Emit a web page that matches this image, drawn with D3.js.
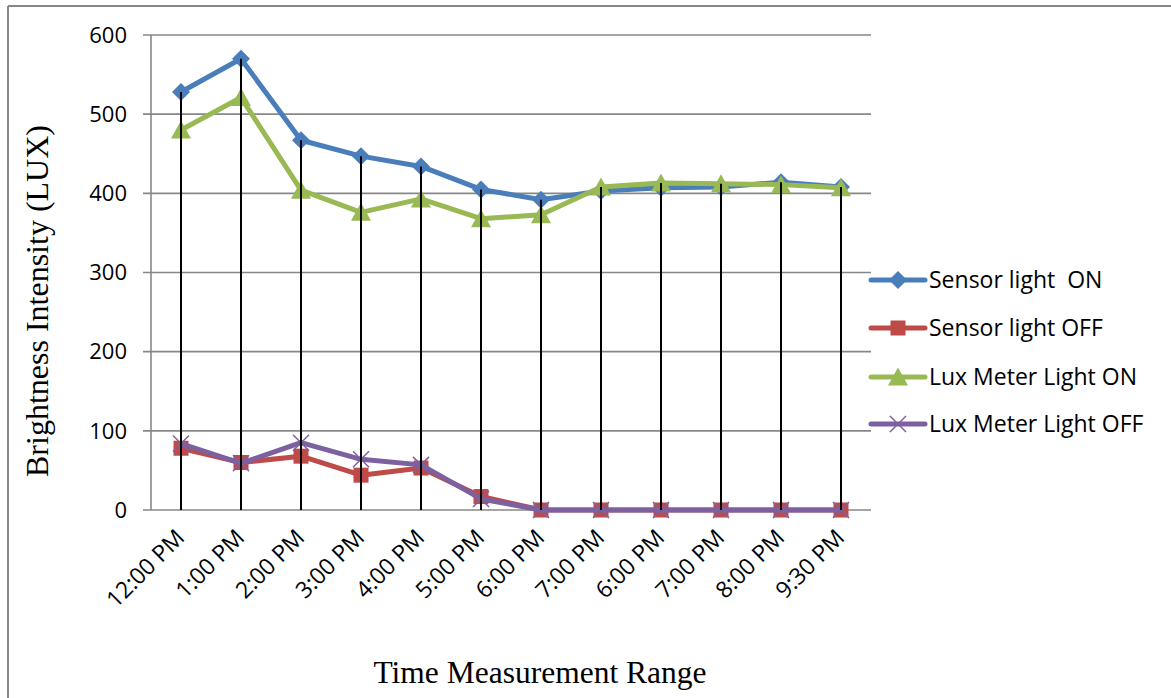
<!DOCTYPE html>
<html>
<head>
<meta charset="utf-8">
<script src="https://cdn.jsdelivr.net/npm/d3@7"></script>
<style>
  html, body { margin: 0; padding: 0; background: #fff; }
  svg { display: block; }
  text { white-space: pre; }
</style>
</head>
<body>
<svg id="chart" width="1171" height="698"></svg>
<script>
const categories = ["12:00 PM","1:00 PM","2:00 PM","3:00 PM","4:00 PM","5:00 PM","6:00 PM","7:00 PM","6:00 PM","7:00 PM","8:00 PM","9:30 PM"];
const sensorOn   = [528, 570, 467, 447, 434, 405, 392, 403, 407, 408, 414, 408];
const sensorOff  = [78, 60, 68, 44, 53, 17, 0, 0, 0, 0, 0, 0];
const luxOn      = [480, 521, 404, 376, 393, 368, 373, 408, 413, 412, 411, 407];
const luxOff     = [84, 59, 85, 64, 57, 14, 0, 0, 0, 0, 0, 0];
const yTicks     = [0, 100, 200, 300, 400, 500, 600];
const seriesNames = ["Sensor light  ON", "Sensor light OFF", "Lux Meter Light ON", "Lux Meter Light OFF"];

const series = [
  {name: seriesNames[0], values: sensorOn,  color: "#4A7EBB", marker: "diamond"},
  {name: seriesNames[1], values: sensorOff, color: "#BE4B48", marker: "square"},
  {name: seriesNames[2], values: luxOn,     color: "#98B954", marker: "triangle"},
  {name: seriesNames[3], values: luxOff,    color: "#7D60A0", marker: "x"}
];

const svg = d3.select("#chart");
const plot = {left: 151, right: 871, top: 35, bottom: 510};
const gray = "#878787";

// outer frame (top and left edges)
svg.append("line").attr("x1", 8).attr("x2", 1171).attr("y1", 6).attr("y2", 6).attr("stroke", gray).attr("stroke-width", 2);
svg.append("line").attr("x1", 8).attr("x2", 8).attr("y1", 6).attr("y2", 698).attr("stroke", gray).attr("stroke-width", 2);

const x = d3.scaleBand().domain(d3.range(categories.length)).range([plot.left, plot.right]);
const cx = i => x(i) + x.bandwidth() / 2;
const y = d3.scaleLinear().domain([0, 600]).range([plot.bottom, plot.top]);

// gridlines + tick marks
svg.append("g").selectAll("line").data(yTicks).join("line")
  .attr("x1", plot.left - 8).attr("x2", plot.right)
  .attr("y1", d => y(d)).attr("y2", d => y(d))
  .attr("stroke", gray).attr("stroke-width", 1.6);

// y axis line
svg.append("line").attr("x1", plot.left).attr("x2", plot.left)
  .attr("y1", plot.top).attr("y2", plot.bottom).attr("stroke", gray).attr("stroke-width", 1.6);

// y tick labels
svg.append("g").selectAll("text").data(yTicks).join("text")
  .attr("x", 127).attr("y", d => y(d)).attr("dy", "0.35em")
  .attr("text-anchor", "end")
  .attr("font-family", "'Open Sans', sans-serif").attr("font-size", 22)
  .attr("fill", "#000")
  .text(d => d);

// x tick labels
svg.append("g").selectAll("text").data(categories).join("text")
  .attr("transform", (d, i) => `translate(${cx(i) + 5},${plot.bottom + 29}) rotate(-45)`)
  .attr("text-anchor", "end")
  .attr("font-family", "'Open Sans', sans-serif").attr("font-size", 23)
  .attr("fill", "#000")
  .text(d => d);

// axis titles
svg.append("text")
  .attr("transform", `translate(48,301) rotate(-90)`)
  .attr("text-anchor", "middle")
  .attr("font-family", "'Liberation Serif', serif").attr("font-size", 32)
  .text("Brightness Intensity (LUX)");
svg.append("text")
  .attr("x", 540).attr("y", 683)
  .attr("text-anchor", "middle")
  .attr("font-family", "'Liberation Serif', serif").attr("font-size", 31.5)
  .text("Time Measurement Range");

function drawMarker(g, type, px, py, color) {
  if (type === "diamond") {
    const s = 9;
    g.append("path").attr("d", `M${px},${py - s}L${px + s},${py}L${px},${py + s}L${px - s},${py}Z`).attr("fill", color);
  } else if (type === "square") {
    const s = 7.5;
    g.append("rect").attr("x", px - s).attr("y", py - s).attr("width", 2 * s).attr("height", 2 * s).attr("fill", color);
  } else if (type === "triangle") {
    const s = 8.5;
    g.append("path").attr("d", `M${px},${py - s - 1}L${px + s + 1.5},${py + s}L${px - s - 1.5},${py + s}Z`).attr("fill", color);
  } else if (type === "x") {
    const s = 8;
    g.append("path").attr("d", `M${px - s},${py - s}L${px + s},${py + s}M${px - s},${py + s}L${px + s},${py - s}`)
      .attr("stroke", color).attr("stroke-width", 1.5).attr("fill", "none");
  }
}

const line = d3.line().x((d, i) => cx(i)).y(d => y(d));
series.forEach(s => {
  const g = svg.append("g");
  g.append("path").attr("d", line(s.values)).attr("fill", "none")
    .attr("stroke", s.color).attr("stroke-width", 5).attr("stroke-linejoin", "round").attr("stroke-linecap", "round");
  s.values.forEach((v, i) => drawMarker(g, s.marker, cx(i), y(v), s.color));
});

// drop lines from highest point to axis
svg.append("g").selectAll("line").data(categories).join("line")
  .attr("x1", (d, i) => cx(i)).attr("x2", (d, i) => cx(i))
  .attr("y1", (d, i) => y(d3.max(series, s => s.values[i])))
  .attr("y2", plot.bottom)
  .attr("stroke", "#000").attr("stroke-width", 2);

// legend
const legendY = [280, 328, 377, 424];
series.forEach((s, k) => {
  const g = svg.append("g");
  const ly = legendY[k];
  g.append("line").attr("x1", 871).attr("x2", 925).attr("y1", ly).attr("y2", ly)
    .attr("stroke", s.color).attr("stroke-width", 5).attr("stroke-linecap", "round");
  drawMarker(g, s.marker, 898, ly, s.color);
  g.append("text").attr("x", 929).attr("y", ly).attr("dy", "0.35em")
    .attr("font-family", "'Open Sans', sans-serif").attr("font-size", 23)
    .text(s.name);
});
</script>
</body>
</html>
